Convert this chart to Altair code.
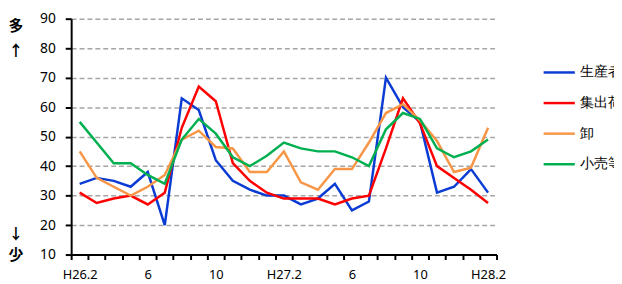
import json
import altair as alt
import pandas as pd

series_names = ["生産者", "集出荷団体", "卸", "小売等"]
series_colors = ["#0A3BD4", "#FF0000", "#F79646", "#00B050"]

producer = [34, 36, 35, 33, 38, 20, 63, 59, 42, 35, 32, 30, 30, 27, 29, 34, 25, 28, 70, 60, 55, 31, 33, 39, 31]
collector = [31, 27.5, 29, 30, 27, 31, 53, 67, 62, 41, 35, 31, 29, 29, 29, 27, 29, 30, 46, 63, 54.5, 40, 36, 32, 27.5]
wholesale = [45, 36, 33, 30, 33, 37, 49, 52, 46.5, 46, 38, 38, 45, 34.5, 32, 39, 39, 48, 58, 61, 55.5, 48.5, 38, 39.5, 53]
retail = [55, 48, 41, 41, 37, 34, 49, 56, 51, 43, 40, 43.5, 48, 46, 45, 45, 43, 40, 52.5, 58, 56, 46, 43, 45, 49]

tick_labels = ["H26.2", "6", "10", "H27.2", "6", "10", "H28.2"]
y_ticks = [10, 20, 30, 40, 50, 60, 70, 80, 90]

rows = []
for name, vals in zip(series_names, [producer, collector, wholesale, retail]):
    for i, v in enumerate(vals):
        rows.append({"idx": i, "value": v, "series": name})
df = pd.DataFrame(rows)

n = len(producer)
boundaries = [i - 0.5 for i in range(n + 1)]
label_expr = (
    f"(datum.value + 0.5) % 4 == 0 ? {json.dumps(tick_labels, ensure_ascii=False)}"
    f"[(datum.value + 0.5) / 4] : ''"
)

FONT = "Noto Sans"

lines = alt.Chart(df).mark_line(strokeWidth=2.5).encode(
    x=alt.X(
        "idx:Q",
        scale=alt.Scale(domain=[-0.5, n - 0.5], nice=False, zero=False),
        axis=alt.Axis(
            values=boundaries,
            labelExpr=label_expr,
            labelOffset=8.6,
            labelFlush=False,
            labelOverlap=False,
            title=None,
            grid=False,
            tickSize=5,
            tickWidth=2,
            tickColor="black",
            domainColor="black",
            domainWidth=2,
            labelPadding=9,
            labelFont=FONT,
            labelFontSize=13,
            labelColor="black",
        ),
    ),
    y=alt.Y(
        "value:Q",
        scale=alt.Scale(domain=[10, 90], nice=False, zero=False),
        axis=alt.Axis(
            values=y_ticks,
            title=None,
            grid=True,
            gridColor="#A6A6A6",
            gridDash=[5, 3],
            gridWidth=1.5,
            tickSize=6,
            tickWidth=2,
            tickColor="black",
            domainColor="black",
            domainWidth=2,
            labelPadding=10,
            labelFont=FONT,
            labelFontSize=14,
            labelColor="black",
        ),
    ),
    color=alt.Color(
        "series:N",
        scale=alt.Scale(domain=series_names, range=series_colors),
        sort=series_names,
        legend=alt.Legend(
            title=None,
            orient="none",
            legendX=477,
            legendY=37,
            symbolType="stroke",
            symbolSize=1000,
            symbolStrokeWidth=2.5,
            rowPadding=6,
            labelOffset=4,
            labelFont=FONT,
            labelFontSize=14,
            labelColor="black",
            labelLimit=300,
            padding=0,
        ),
    ),
)

def side_text(t, x, y):
    return alt.Chart(alt.Data(values=[{}])).mark_text(
        text=t, font="Noto Sans CJK JP", fontSize=15, fontWeight="bold", color="black"
    ).encode(x=alt.value(x), y=alt.value(y))

chart = alt.layer(
    lines,
    side_text("多", -56, 7),
    side_text("↑", -56, 33),
    side_text("↓", -56, 218),
    side_text("少", -56, 239),
).properties(
    width=431,
    height=239,
    autosize=alt.AutoSizeParams(type="none"),
    padding={"left": 64, "top": 9, "right": 119, "bottom": 28},
).configure_view(stroke=None)

chart.save("out.html", embed_options={"renderer": "svg", "actions": False})
